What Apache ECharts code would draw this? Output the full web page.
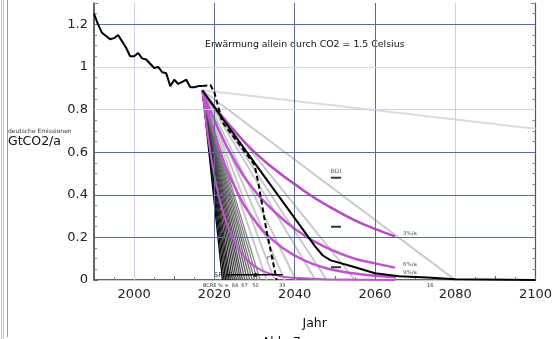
<!DOCTYPE html>
<html>
<head>
<meta charset="utf-8">
<script src="https://cdn.jsdelivr.net/npm/echarts@6/dist/echarts.min.js"></script>
<style>
html, body { margin: 0; padding: 0; background: #fff; }
#main { width: 555px; height: 339px; }
</style>
</head>
<body>
<div id="main"></div>
<script>
// historische Emissionen (GtCO2/a)
var histYears = [1990, 1991, 1992, 1993, 1994, 1995, 1996, 1997, 1998, 1999, 2000, 2001, 2002, 2003,
                 2004, 2005, 2006, 2007, 2008, 2009, 2010, 2011, 2012, 2013, 2014, 2015, 2016, 2017];
var histValues = [1.25, 1.20, 1.16, 1.145, 1.13, 1.135, 1.15, 1.12, 1.09, 1.05, 1.05, 1.065, 1.04, 1.035,
                  1.015, 0.995, 1.0, 0.975, 0.97, 0.91, 0.94, 0.92, 0.93, 0.94, 0.905, 0.905, 0.91, 0.91];

// Startpunkt der Pfade
var startPoint = [2017, 0.89];

// lineare Pfade: Jahr, in dem null erreicht wird
var fanDarkEnds = [2022.0, 2022.4, 2022.8, 2023.2, 2023.6, 2024.0, 2024.5, 2025.0, 2025.5, 2026.0,
                   2026.5, 2027.0, 2027.6, 2028.2, 2028.8, 2029.4, 2030.0, 2030.7, 2031.4];
var fanLightEnds = [2033, 2035, 2037.5, 2040.3, 2045.2, 2048, 2055, 2080];
var flatPath = [[2017, 0.89], [2100, 0.71]];

// exponentielle Pfade
var path3 = [[2017, 0.89], [2020, 0.81], [2025, 0.70], [2030, 0.60], [2035, 0.52], [2040, 0.45],
             [2045, 0.385], [2050, 0.33], [2055, 0.28], [2060, 0.24], [2065, 0.205]];
var path6 = [[2017, 0.89], [2020, 0.75], [2025, 0.56], [2030, 0.42], [2035, 0.32], [2040, 0.24],
             [2045, 0.18], [2050, 0.135], [2055, 0.10], [2060, 0.078], [2065, 0.058]];
var path9 = [[2017, 0.89], [2020, 0.68], [2025, 0.44], [2030, 0.28], [2035, 0.18], [2040, 0.115],
             [2045, 0.072], [2050, 0.046], [2055, 0.03], [2060, 0.02], [2065, 0.013]];
var path20 = [[2017, 0.89], [2018, 0.73], [2019, 0.60], [2020, 0.49], [2021, 0.40], [2022, 0.33],
              [2023, 0.27], [2025, 0.18], [2027, 0.12], [2030, 0.065], [2035, 0.024], [2040, 0.01],
              [2050, 0.002], [2065, 0]];
var rateLabels = ['3%/a', '6%/a', '9%/a'];

// schwarzer Pfad und gestrichelter Pfad
var blackPath = [[2017, 0.89], [2030, 0.55], [2040, 0.29], [2045, 0.16], [2047, 0.115], [2049, 0.092],
                 [2054, 0.066], [2060, 0.032], [2066, 0.018], [2073, 0.012], [2080, 0.003], [2100, 0]];
var dashPath = [[2017, 0.91], [2019, 0.915], [2020, 0.88], [2022, 0.74], [2026.5, 0.63], [2030, 0.54],
                [2031, 0.45], [2033, 0.23], [2034.5, 0.095], [2035.5, 0]];

// SR1.5 Linie und Marken bei 2050
var srLine = [[2023, 0.025], [2037, 0.025]];
var srDot = [[2030.3, 0.025]];
var marks2050 = [[2050.3, 0.48], [2050.3, 0.25], [2050.3, 0.06]];

// Gitterlinien
var xGrid = [2000, 2020, 2040, 2060, 2080];
var xGridDark = [false, true, true, true, false];
var yGrid = [0.2, 0.4, 0.6, 0.8, 1.0, 1.2];
var yGridDark = [true, true, true, false, false, true];

var DARK = '#5d6a96';
var LIGHT = '#cdd1ea';
var PURPLE = '#c352d3';
var FONT = 'DejaVu Sans';

var chart = echarts.init(document.getElementById('main'));

var series = [];

// Gitter als markLine
var gridLines = [];
xGrid.forEach(function (x, i) {
    gridLines.push({ xAxis: x, lineStyle: { color: xGridDark[i] ? DARK : LIGHT, width: 1, type: 'solid' } });
});
yGrid.forEach(function (y, i) {
    gridLines.push({ yAxis: y, lineStyle: { color: yGridDark[i] ? DARK : LIGHT, width: 1, type: 'solid' } });
});
series.push({
    type: 'line', data: [], z: 1, silent: true,
    markLine: { silent: true, symbol: ['none', 'none'], label: { show: false }, animation: false, data: gridLines }
});

// flacher Pfad
series.push({
    type: 'line', data: flatPath, symbol: 'none', z: 2, silent: true,
    lineStyle: { color: '#dcdcdc', width: 2 }
});

// helle lineare Pfade
fanLightEnds.forEach(function (e) {
    series.push({
        type: 'line', data: [startPoint, [e, 0]], symbol: 'none', z: 2, silent: true,
        lineStyle: { color: '#c6c6c6', width: 1.8 }
    });
});

// dunkler Faecher
fanDarkEnds.forEach(function (e, i) {
    var g = Math.round(5 + 130 * i / (fanDarkEnds.length - 1));
    series.push({
        type: 'line', data: [startPoint, [e, 0]], symbol: 'none', z: 3, silent: true,
        lineStyle: { color: 'rgb(' + g + ',' + g + ',' + g + ')', width: 1.3 }
    });
});

// exponentielle Pfade
[path3, path6, path9].forEach(function (p, i) {
    series.push({
        type: 'line', data: p, symbol: 'none', smooth: true, z: 4, silent: true,
        lineStyle: { color: i === 0 ? '#b848c8' : PURPLE, width: 2.5 },
        endLabel: {
            show: true, formatter: rateLabels[i], fontSize: 5.5, color: '#555', fontFamily: FONT,
            offset: [0, i === 2 ? -5 : -3]
        }
    });
});
series.push({
    type: 'line', data: path20, symbol: 'none', smooth: true, z: 4, silent: true,
    lineStyle: { color: PURPLE, width: 2 }
});

// schwarzer Pfad
series.push({
    type: 'line', data: blackPath, symbol: 'none', z: 5, silent: true,
    lineStyle: { color: '#000', width: 2 }
});

// gestrichelter Pfad
series.push({
    type: 'line', data: dashPath, symbol: 'none', z: 6, silent: true,
    lineStyle: { color: '#000', width: 2, type: [5, 3] }
});

// historische Emissionen
series.push({
    type: 'line', data: histYears.map(function (y, i) { return [y, histValues[i]]; }),
    symbol: 'none', z: 6, silent: true,
    lineStyle: { color: '#000', width: 2 }
});

// SR1.5
series.push({
    type: 'line', data: srLine, symbol: 'none', z: 6, silent: true,
    lineStyle: { color: '#000', width: 1.5 }
});
series.push({
    type: 'scatter', data: srDot, symbol: 'circle', symbolSize: 4, z: 7, silent: true,
    itemStyle: { color: '#000' }
});

// Marken 2050
series.push({
    type: 'scatter', data: marks2050, symbol: 'rect', symbolSize: [10, 2], z: 7, silent: true,
    itemStyle: { color: '#000' },
    label: {
        show: true, position: 'top', distance: 2, fontSize: 6, color: '#333', fontFamily: FONT,
        formatter: function (p) { return p.dataIndex === 0 ? 'BDI' : ''; }
    }
});

var option = {
    animation: false,
    backgroundColor: '#fff',
    grid: { left: 94, right: 17, top: 3, bottom: 59 },
    xAxis: [
        {
            type: 'value', min: 1990, max: 2100, interval: 10,
            axisLine: { lineStyle: { color: '#333', width: 1.5 } },
            axisTick: { inside: true, length: 4, lineStyle: { color: '#666' } },
            minorTick: { show: true, splitNumber: 2, length: 3, lineStyle: { color: '#888' } },
            axisLabel: {
                fontSize: 13, color: '#222', fontFamily: FONT, margin: 8,
                formatter: function (v) { return v % 20 === 0 ? String(v) : ''; }
            },
            splitLine: { show: false },
            name: 'Jahr', nameLocation: 'middle', nameGap: 37,
            nameTextStyle: { fontSize: 12.5, color: '#111', fontFamily: FONT }
        },
        {
            type: 'value', position: 'top', min: 1990, max: 2100,
            axisLine: { lineStyle: { color: '#cccccc' } },
            axisTick: { show: false }, axisLabel: { show: false }, splitLine: { show: false }
        }
    ],
    yAxis: [
        {
            type: 'value', min: 0, max: 1.3, interval: 0.2,
            axisLine: { show: true, lineStyle: { color: '#333', width: 1.5 } },
            axisTick: { show: true, inside: true, length: 4, lineStyle: { color: '#666' } },
            minorTick: { show: true, splitNumber: 4, length: 3, lineStyle: { color: '#888' } },
            axisLabel: { fontSize: 13, color: '#222', fontFamily: FONT, margin: 6, showMaxLabel: false },
            splitLine: { show: false }
        },
        {
            type: 'value', min: 0, max: 1.3, interval: 0.2, position: 'right',
            axisLine: { show: true, lineStyle: { color: '#555', width: 1.2 } },
            axisTick: { show: true, inside: true, length: 4, lineStyle: { color: '#666' } },
            minorTick: { show: true, splitNumber: 4, length: 3, lineStyle: { color: '#888' } },
            axisLabel: { show: false },
            splitLine: { show: false }
        }
    ],
    graphic: [
        { type: 'line', shape: { x1: 1.5, y1: 0, x2: 1.5, y2: 339 }, style: { stroke: '#c4c4c4', lineWidth: 1 } },
        { type: 'line', shape: { x1: 3.5, y1: 0, x2: 3.5, y2: 339 }, style: { stroke: '#c4c4c4', lineWidth: 1 } },
        { type: 'line', shape: { x1: 7.5, y1: 0, x2: 7.5, y2: 337 }, style: { stroke: '#9a9a9a', lineWidth: 1 } },
        { type: 'text', left: 205, top: 40, style: { text: 'Erwärmung allein durch CO2 = 1.5 Celsius', fontSize: 9.4, fill: '#111', fontFamily: FONT } },
        { type: 'text', left: 8, top: 128, style: { text: 'deutsche Emissionen', fontSize: 6, fill: '#333', fontFamily: FONT } },
        { type: 'text', left: 8, top: 135, style: { text: 'GtCO2/a', fontSize: 12.5, fill: '#111', fontFamily: FONT } },
        { type: 'text', left: 214, top: 272, style: { text: 'SR1.5', fontSize: 6.5, fill: '#222', fontFamily: FONT } },
        { type: 'text', left: 267, top: 256, style: { text: 'FTF', fontSize: 5, fill: '#333', fontFamily: FONT } },
        { type: 'text', left: 203, top: 283, style: { text: 'BCRE % =  84  67   50', fontSize: 5, fill: '#333', fontFamily: FONT } },
        { type: 'text', left: 279, top: 283, style: { text: '33', fontSize: 5, fill: '#333', fontFamily: FONT } },
        { type: 'text', left: 427, top: 283, style: { text: '16', fontSize: 5, fill: '#333', fontFamily: FONT } },
        { type: 'text', left: 262, top: 336.5, style: { text: 'Abb. 7', fontSize: 12, fill: '#111', fontFamily: FONT } }
    ],
    series: series
};

chart.setOption(option);
</script>
</body>
</html>
